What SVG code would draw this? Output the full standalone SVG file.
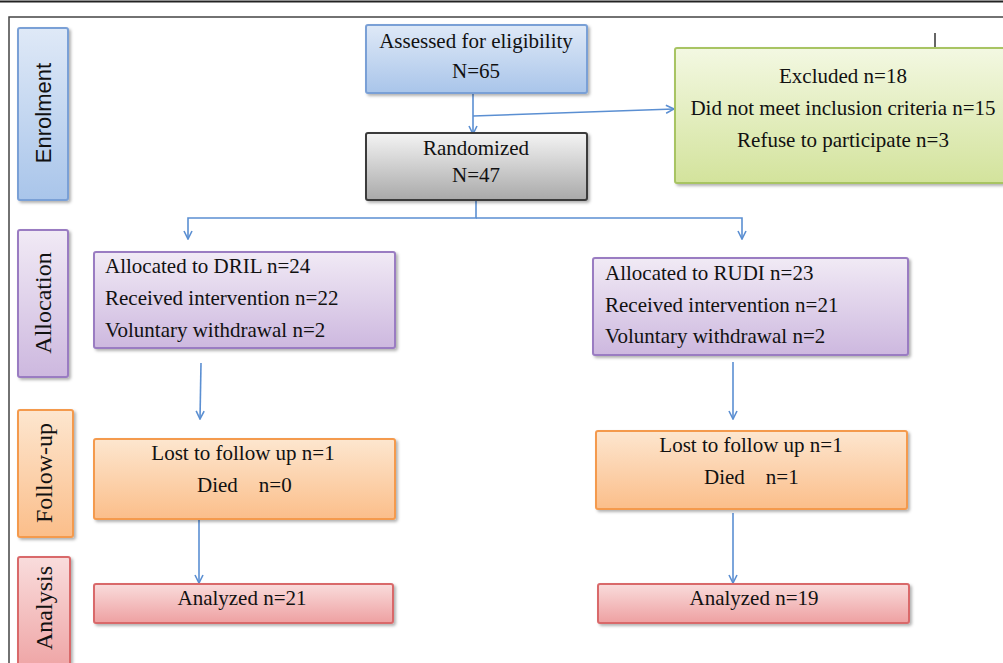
<svg xmlns="http://www.w3.org/2000/svg" width="1003" height="663" viewBox="0 0 1003 663">
<style>
.t{font-family:"Liberation Serif","Times New Roman",serif;font-size:21px;fill:#111}
.c{text-anchor:middle}
.side{font-family:"Liberation Serif","Times New Roman",serif;font-size:24px;fill:#111;text-anchor:middle}
.sans{font-family:"Liberation Sans",Arial,sans-serif;font-size:22px}
.conn{stroke:#5b8fd2;stroke-width:1.6;fill:none}
.blue{fill:url(#gBlue);stroke:#7aa0d6;stroke-width:2}
.gray{fill:url(#gGray);stroke:#3a3a3a;stroke-width:2}
.green{fill:url(#gGreen);stroke:#a8c463;stroke-width:2}
.purple{fill:url(#gPurple);stroke:#9a7cc2;stroke-width:2}
.orange{fill:url(#gOrange);stroke:#f49a4e;stroke-width:2}
.red{fill:url(#gRed);stroke:#d9696b;stroke-width:2}
</style>
<defs>
<filter id="sh" x="-10%" y="-10%" width="130%" height="140%">
<feDropShadow dx="2" dy="2" stdDeviation="1.5" flood-color="#000" flood-opacity="0.3"/>
</filter>
<linearGradient id="gBlue" x1="0" y1="0" x2="0" y2="1"><stop offset="0" stop-color="#dfe9f7"/><stop offset="1" stop-color="#a9c5ea"/></linearGradient>
<linearGradient id="gGray" x1="0" y1="0" x2="0" y2="1"><stop offset="0" stop-color="#f4f4f4"/><stop offset="1" stop-color="#a9a9a9"/></linearGradient>
<linearGradient id="gGreen" x1="0" y1="0" x2="0" y2="1"><stop offset="0" stop-color="#f3f8e2"/><stop offset="1" stop-color="#d3e39c"/></linearGradient>
<linearGradient id="gPurple" x1="0" y1="0" x2="0" y2="1"><stop offset="0" stop-color="#f1eaf5"/><stop offset="1" stop-color="#cdb8df"/></linearGradient>
<linearGradient id="gOrange" x1="0" y1="0" x2="0" y2="1"><stop offset="0" stop-color="#fde6cf"/><stop offset="1" stop-color="#fbbe8a"/></linearGradient>
<linearGradient id="gRed" x1="0" y1="0" x2="0" y2="1"><stop offset="0" stop-color="#f9dcdc"/><stop offset="1" stop-color="#eea0a1"/></linearGradient>
<marker id="arr" viewBox="0 0 10 10" refX="9" refY="5" markerWidth="10" markerHeight="10" markerUnits="userSpaceOnUse" orient="auto">
<path d="M1,1 L9,5 L1,9" fill="none" stroke="#5b8fd2" stroke-width="1.6"/>
</marker>
</defs>
<rect width="1003" height="663" fill="#fff"/>
<g id="frame">
<line x1="0" y1="1.5" x2="1003" y2="1.5" stroke="#222" stroke-width="2"/>
<polyline points="9,663 9,17 1003,17" fill="none" stroke="#444" stroke-width="1.5"/>
<line x1="935" y1="33" x2="935" y2="48" stroke="#333" stroke-width="1.5"/>
</g>
<g id="side-enrolment">
<rect x="18" y="28" width="50" height="172" rx="2" class="blue" filter="url(#sh)"/>
<text class="side sans" transform="translate(51,113) rotate(-90)">Enrolment</text>
</g>
<g id="side-allocation">
<rect x="18" y="230" width="50" height="147" rx="2" class="purple" filter="url(#sh)"/>
<text class="side" transform="translate(51,303) rotate(-90)">Allocation</text>
</g>
<g id="side-followup">
<rect x="18" y="410" width="55" height="127" rx="2" class="orange" filter="url(#sh)"/>
<text class="side" transform="translate(52,473) rotate(-90)">Follow-up</text>
</g>
<g id="side-analysis">
<rect x="18" y="557" width="52" height="120" rx="2" class="red" filter="url(#sh)"/>
<text class="side" transform="translate(52,608) rotate(-90)">Analysis</text>
</g>
<g id="connectors">
<line x1="473" y1="93" x2="473" y2="134" class="conn" marker-end="url(#arr)"/>
<line x1="473" y1="116" x2="674" y2="109" class="conn" marker-end="url(#arr)"/>
<polyline points="476,200 476,218 188,218 188,239" class="conn" marker-end="url(#arr)"/>
<polyline points="476,218 742,218 742,239" class="conn" marker-end="url(#arr)"/>
<line x1="201" y1="363" x2="200" y2="419" class="conn" marker-end="url(#arr)"/>
<line x1="733" y1="362" x2="733" y2="419" class="conn" marker-end="url(#arr)"/>
<line x1="199" y1="514" x2="199" y2="583" class="conn" marker-end="url(#arr)"/>
<line x1="733" y1="513" x2="733" y2="583" class="conn" marker-end="url(#arr)"/>
</g>
<g id="assessed">
<rect x="366" y="25" width="221" height="68" rx="2" class="blue" filter="url(#sh)"/>
<text class="t c" x="476" y="48">Assessed for eligibility</text>
<text class="t c" x="476" y="78">N=65</text>
</g>
<g id="excluded">
<rect x="675" y="48" width="340" height="135" rx="2" class="green" filter="url(#sh)"/>
<text class="t c" x="843" y="83">Excluded n=18</text>
<text class="t c" x="843" y="115">Did not meet inclusion criteria n=15</text>
<text class="t c" x="843" y="147">Refuse to participate n=3</text>
</g>
<g id="randomized">
<rect x="366" y="133" width="221" height="67" rx="2" class="gray" filter="url(#sh)"/>
<text class="t c" x="476" y="155">Randomized</text>
<text class="t c" x="476" y="182">N=47</text>
</g>
<g id="alloc-dril">
<rect x="94" y="252" width="301" height="96" rx="2" class="purple" filter="url(#sh)"/>
<text class="t" x="105" y="273">Allocated to DRIL n=24</text>
<text class="t" x="105" y="305">Received intervention n=22</text>
<text class="t" x="105" y="337">Voluntary withdrawal n=2</text>
</g>
<g id="alloc-rudi">
<rect x="593" y="258" width="315" height="97" rx="2" class="purple" filter="url(#sh)"/>
<text class="t" x="605" y="280">Allocated to RUDI n=23</text>
<text class="t" x="605" y="312">Received intervention n=21</text>
<text class="t" x="605" y="343">Voluntary withdrawal n=2</text>
</g>
<g id="follow-dril">
<rect x="94" y="439" width="301" height="80" rx="2" class="orange" filter="url(#sh)"/>
<text class="t c" x="243" y="460">Lost to follow up n=1</text>
<text class="t" x="197" y="492" xml:space="preserve">Died    n=0</text>
</g>
<g id="follow-rudi">
<rect x="596" y="431" width="311" height="78" rx="2" class="orange" filter="url(#sh)"/>
<text class="t c" x="751" y="452">Lost to follow up n=1</text>
<text class="t" x="704" y="484" xml:space="preserve">Died    n=1</text>
</g>
<g id="analysis-dril">
<rect x="94" y="584" width="299" height="39" rx="2" class="red" filter="url(#sh)"/>
<text class="t c" x="242" y="605">Analyzed n=21</text>
</g>
<g id="analysis-rudi">
<rect x="598" y="584" width="311" height="39" rx="2" class="red" filter="url(#sh)"/>
<text class="t c" x="754" y="605">Analyzed n=19</text>
</g>
</svg>
